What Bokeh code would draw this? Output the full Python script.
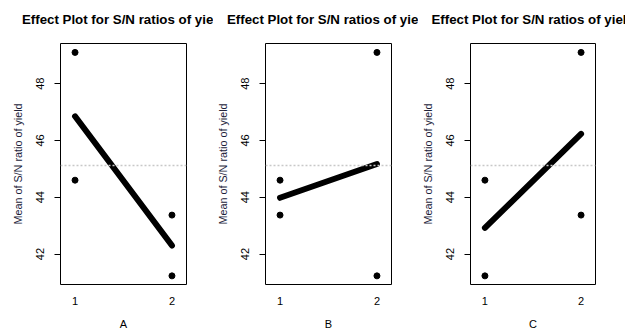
from bokeh.plotting import figure
from bokeh.layouts import row
from bokeh.models import Range1d, FixedTicker, Title, Span
from bokeh.embed import file_html
from bokeh.resources import INLINE

# ---- data ----
factors = ["A", "B", "C"]
levels = [1, 2]
# individual S/N ratios at each level of each factor
pts_level1 = {"A": [49.10, 44.60], "B": [44.60, 43.37], "C": [44.60, 41.23]}
pts_level2 = {"A": [43.37, 41.23], "B": [49.10, 41.23], "C": [49.10, 43.37]}
# mean S/N ratio per level
means = {"A": [46.85, 42.30], "B": [43.98, 45.17], "C": [42.92, 46.23]}
grand_mean = 45.12
y_ticks = [42, 44, 46, 48]
title_text = "Effect Plot for S/N ratios of yield"
y_label = "Mean of S/N ratio of yield"

FONT = "Liberation Sans"

# panel geometry (canvas widths and frame borders)
panel_w = [213, 205, 207]
border_l = [60, 52, 51]
FRAME_W = 126

figs = []
for i, f in enumerate(factors):
    p = figure(width=panel_w[i], height=332, output_backend="svg", toolbar_location=None,
               x_range=Range1d(0.85, 2.15), y_range=Range1d(40.926, 49.414),
               min_border_left=border_l[i], min_border_right=panel_w[i] - border_l[i] - FRAME_W,
               min_border_top=43, min_border_bottom=48)
    p.title = None
    # small invisible spacer between frame and title, then the title itself
    p.add_layout(Title(text=" ", text_font_size="1px", text_color="white", standoff=14), "above")
    p.add_layout(Title(text=title_text, align="center", vertical_align="bottom", text_font=FONT,
                       text_font_size="13.3px", text_font_style="bold", text_color="black",
                       standoff=0), "above")
    p.background_fill_color = "white"
    p.border_fill_color = "white"
    p.outline_line_color = "black"
    p.outline_line_width = 1
    p.xgrid.visible = False
    p.ygrid.visible = False

    # x axis
    p.xaxis.ticker = FixedTicker(ticks=levels)
    p.xaxis.major_tick_out = 0
    p.xaxis.major_tick_in = 0
    p.xaxis.minor_tick_line_color = None
    p.xaxis.axis_line_color = None
    p.xaxis.major_label_text_font = FONT
    p.xaxis.major_label_text_font_size = "11px"
    p.xaxis.major_label_text_color = "black"
    p.xaxis.major_label_standoff = 12
    p.xaxis.axis_label = f
    p.xaxis.axis_label_text_font = FONT
    p.xaxis.axis_label_text_font_size = "11px"
    p.xaxis.axis_label_text_font_style = "normal"
    p.xaxis.axis_label_text_color = "black"
    p.xaxis.axis_label_standoff = 10

    # y axis
    p.yaxis.ticker = FixedTicker(ticks=y_ticks)
    p.yaxis.major_tick_out = 6
    p.yaxis.major_tick_in = 0
    p.yaxis.major_tick_line_color = "black"
    p.yaxis.minor_tick_line_color = None
    p.yaxis.axis_line_color = None
    p.yaxis.major_label_orientation = "vertical"
    p.yaxis.major_label_text_font = FONT
    p.yaxis.major_label_text_font_size = "11px"
    p.yaxis.major_label_text_color = "black"
    p.yaxis.major_label_standoff = 10
    p.yaxis.axis_label = y_label
    p.yaxis.axis_label_text_font = FONT
    p.yaxis.axis_label_text_font_size = "10.8px"
    p.yaxis.axis_label_text_font_style = "normal"
    p.yaxis.axis_label_text_color = "#1c1c3a"
    p.yaxis.axis_label_standoff = 10

    # grand mean reference line
    p.add_layout(Span(location=grand_mean, dimension="width", line_color="#c8c8c8",
                      line_dash="2 2", line_width=1.5))

    # mean effect line
    p.line(levels, means[f], line_color="black", line_width=6, line_cap="round")

    # individual points
    xs = [levels[0]] * len(pts_level1[f]) + [levels[1]] * len(pts_level2[f])
    ys = pts_level1[f] + pts_level2[f]
    p.scatter(xs, ys, size=6, color="black")

    figs.append(p)

layout = row(*figs, spacing=0)
open("out.html", "w").write(file_html(layout, INLINE))
